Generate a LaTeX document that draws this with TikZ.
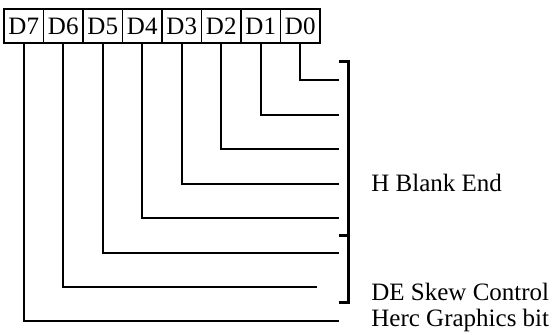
\documentclass[tikz,border=0pt]{standalone}
\usepackage{fontspec}
\setmainfont{Liberation Serif}
\usetikzlibrary{calc}

\begin{document}
\begin{tikzpicture}[x=0.5pt,y=-0.5pt,
  bitbox/.style={draw,line width=0.9pt,minimum width=19.75pt,minimum height=17pt,inner sep=0pt,font=\fontsize{12.5}{14}\selectfont},
  wire/.style={line width=1.2pt},
  lbl/.style={anchor=base west,inner sep=0pt,font=\fontsize{12.5}{14}\selectfont}
]
\useasboundingbox (0,0) rectangle (555,335);

% register bits, D7 on the left
\foreach \b [count=\k from 0] in {7,6,5,4,3,2,1,0}
  \node[bitbox] (b\b) at ({23.75+39.5*\k},26) {D\b};

% free ends of the bit lines
\coordinate (e0) at (339,80);
\coordinate (e1) at (339,115);
\coordinate (e2) at (339,149);
\coordinate (e3) at (339,184);
\coordinate (e4) at (339,218);
\coordinate (e5) at (339,253);
\coordinate (e6) at (317,287);
\coordinate (e7) at (339,321);

\foreach \b in {0,...,7}
  \draw[wire] (b\b.south) |- (e\b);

% bracket over D0..D6
\coordinate (bt) at (339,62);
\coordinate (bm) at (339,236);
\coordinate (bb) at (339,303);
\draw[line width=1.5pt] (bt) -- (348,62) -- (348,303) -- (bb);
\draw[line width=1.5pt] (bm) -- (348,236);

\node[lbl] (hblank) at (371,192) {H Blank End};
\node[lbl] (deskew) at (371,300) {DE Skew Control};
\node[lbl] (herc) at (371,327) {Herc Graphics bit};
\end{tikzpicture}
\end{document}
